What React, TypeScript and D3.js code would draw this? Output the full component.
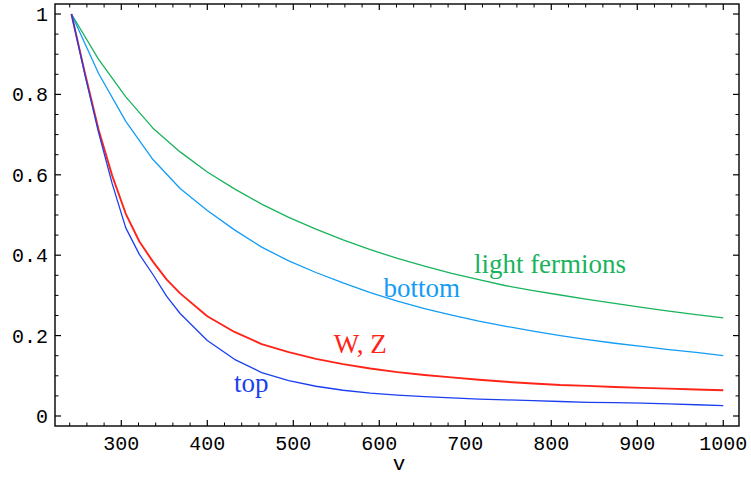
import React from "react";
import * as d3 from "d3";

const vValues = [242, 273.6, 305.2, 336.8, 368.4, 400, 431.6, 463.2, 494.7, 526.3, 557.9, 589.5, 621.1, 652.6, 684.2, 715.8, 747.4, 778.9, 810.5, 842.1, 873.7, 905.3, 936.8, 968.4, 1000];
const vValuesFine = [242, 257.8, 273.6, 289.4, 305.2, 321, 336.8, 352.6, 368.4, 400, 431.6, 463.2, 494.7, 526.3, 557.9, 589.5, 621.1, 652.6, 684.2, 715.8, 747.4, 778.9, 810.5, 842.1, 873.7, 905.3, 936.8, 968.4, 1000];
const lightFermions = [1.0, 0.887, 0.794, 0.716, 0.657, 0.607, 0.565, 0.527, 0.494, 0.465, 0.438, 0.414, 0.392, 0.373, 0.355, 0.339, 0.324, 0.312, 0.301, 0.290, 0.280, 0.270, 0.261, 0.252, 0.244];
const bottom = [1.0, 0.852, 0.733, 0.638, 0.566, 0.511, 0.463, 0.420, 0.386, 0.357, 0.331, 0.307, 0.286, 0.267, 0.251, 0.236, 0.223, 0.211, 0.200, 0.190, 0.181, 0.173, 0.165, 0.158, 0.150];
const wz = [1.0, 0.852, 0.712, 0.598, 0.503, 0.434, 0.384, 0.340, 0.305, 0.248, 0.209, 0.179, 0.159, 0.142, 0.129, 0.118, 0.109, 0.102, 0.096, 0.090, 0.085, 0.081, 0.077, 0.075, 0.072, 0.070, 0.068, 0.066, 0.064];
const top = [1.0, 0.848, 0.705, 0.578, 0.468, 0.402, 0.352, 0.298, 0.255, 0.188, 0.141, 0.108, 0.088, 0.074, 0.064, 0.057, 0.052, 0.048, 0.045, 0.042, 0.040, 0.038, 0.036, 0.034, 0.033, 0.032, 0.030, 0.028, 0.026];

const xMajorTicks = [300, 400, 500, 600, 700, 800, 900, 1000];
const xMinorTicks = [240, 260, 280, 320, 340, 360, 380, 420, 440, 460, 480, 520, 540, 560, 580, 620, 640, 660, 680, 720, 740, 760, 780, 820, 840, 860, 880, 920, 940, 960, 980];
const yMajorTicks = [0, 0.2, 0.4, 0.6, 0.8, 1];
const yMinorTicks = [0.05, 0.1, 0.15, 0.25, 0.3, 0.35, 0.45, 0.5, 0.55, 0.65, 0.7, 0.75, 0.85, 0.9, 0.95];
const yTickLabels = ["0", "0.2", "0.4", "0.6", "0.8", "1"];

const series = [
  { name: "light fermions", xs: vValues, values: lightFermions, color: "#19b35c", width: 1.3 },
  { name: "bottom", xs: vValues, values: bottom, color: "#129cf5", width: 1.3 },
  { name: "W, Z", xs: vValuesFine, values: wz, color: "#ff2418", width: 1.9 },
  { name: "top", xs: vValuesFine, values: top, color: "#1b3ff0", width: 1.3 },
];

const labels = [
  { text: "light fermions", v: 710, y: 0.355, color: "#19b35c" },
  { text: "bottom", v: 605, y: 0.297, color: "#129cf5" },
  { text: "W, Z", v: 547, y: 0.156, color: "#ff2418" },
  { text: "top", v: 431, y: 0.06, color: "#1b3ff0" },
];

export default function App() {
  const W = 751, H = 478;
  const x = d3.scaleLinear().domain([222.9, 1018.3]).range([55, 739]);
  const y = d3.scaleLinear().domain([-0.0249, 1.0249]).range([426, 4]);
  const [x0, x1] = x.range();
  const [y0, y1] = y.range();
  const mono = "'Liberation Mono', 'DejaVu Sans Mono', monospace";
  const serif = "'Liberation Serif', 'Times New Roman', serif";
  return (
    <svg width={W} height={H} style={{ position: "absolute", left: 0, top: 0, background: "#fff" }}>
      <rect x={0} y={0} width={W} height={H} fill="#fff" />
      {series.map((s) => {
        const line = d3.line<number>().x((_, i) => x(s.xs[i])).y((d) => y(d));
        return (
          <path key={s.name} d={line(s.values) || ""} fill="none" stroke={s.color} strokeWidth={s.width} strokeLinejoin="round" />
        );
      })}
      <rect x={x0} y={y1} width={x1 - x0} height={y0 - y1} fill="none" stroke="#000" strokeWidth={1.4} />
      {xMajorTicks.map((t) => (
        <g key={"xM" + t}>
          <line x1={x(t)} x2={x(t)} y1={y0} y2={y0 - 6} stroke="#000" strokeWidth={1.2} />
          <line x1={x(t)} x2={x(t)} y1={y1} y2={y1 + 6} stroke="#000" strokeWidth={1.2} />
          <text x={x(t)} y={450} textAnchor="middle" fontFamily={mono} fontSize={20} fill="#000">{t}</text>
        </g>
      ))}
      {xMinorTicks.map((t) => (
        <g key={"xm" + t}>
          <line x1={x(t)} x2={x(t)} y1={y0} y2={y0 - 3.5} stroke="#000" strokeWidth={1} />
          <line x1={x(t)} x2={x(t)} y1={y1} y2={y1 + 3.5} stroke="#000" strokeWidth={1} />
        </g>
      ))}
      {yMajorTicks.map((t, i) => (
        <g key={"yM" + t}>
          <line x1={x0} x2={x0 + 6} y1={y(t)} y2={y(t)} stroke="#000" strokeWidth={1.2} />
          <line x1={x1} x2={x1 - 6} y1={y(t)} y2={y(t)} stroke="#000" strokeWidth={1.2} />
          <text x={48} y={y(t) + 7} textAnchor="end" fontFamily={mono} fontSize={20} fill="#000">{yTickLabels[i]}</text>
        </g>
      ))}
      {yMinorTicks.map((t) => (
        <g key={"ym" + t}>
          <line x1={x0} x2={x0 + 3.5} y1={y(t)} y2={y(t)} stroke="#000" strokeWidth={1} />
          <line x1={x1} x2={x1 - 3.5} y1={y(t)} y2={y(t)} stroke="#000" strokeWidth={1} />
        </g>
      ))}
      <text x={399} y={470} textAnchor="middle" fontFamily={mono} fontSize={21} fill="#000">v</text>
      {labels.map((l) => (
        <text key={l.text} x={x(l.v)} y={y(l.y)} fontFamily={serif} fontSize={27} fill={l.color}>{l.text}</text>
      ))}
    </svg>
  );
}
